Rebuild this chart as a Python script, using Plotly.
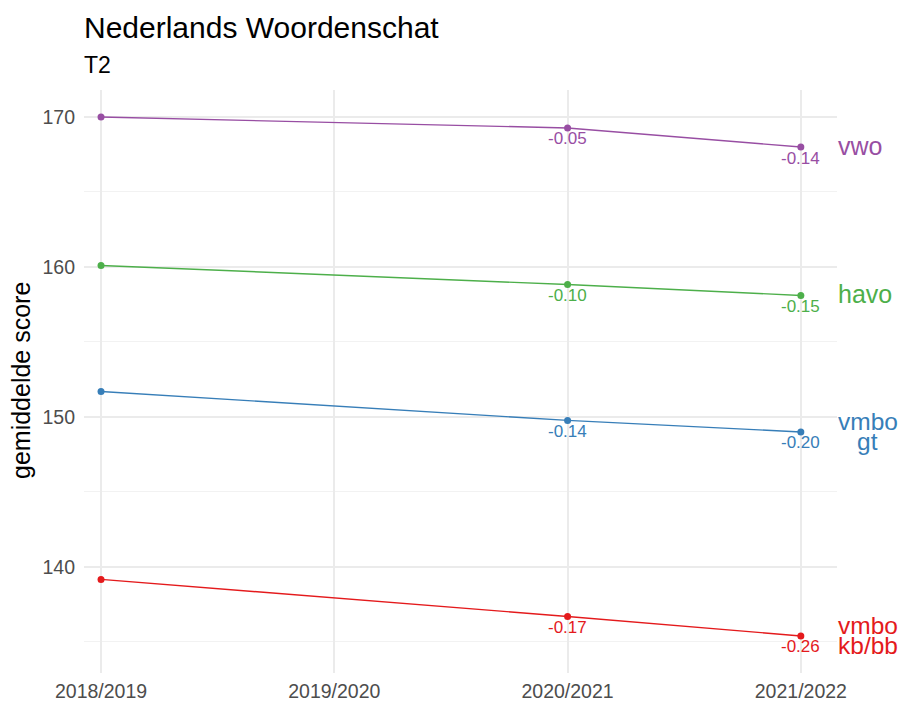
import plotly.graph_objects as go

years = ["2018/2019", "2019/2020", "2020/2021", "2021/2022"]
groups = ["vwo", "havo", "vmbo gt", "vmbo kb/bb"]
group_labels = [["vwo"], ["havo"], ["vmbo", "gt"], ["vmbo", "kb/bb"]]
colors = ["#984EA3", "#4DAF4A", "#377EB8", "#E41A1C"]
vwo = [170.0, 169.27, 168.0]
havo = [160.1, 158.83, 158.1]
vmbo_gt = [151.7, 149.77, 149.0]
vmbo_kbbb = [139.17, 136.7, 135.4]
data_years = ["2018/2019", "2020/2021", "2021/2022"]
eff_vwo = ["-0.05", "-0.14"]
eff_havo = ["-0.10", "-0.15"]
eff_gt = ["-0.14", "-0.20"]
eff_kbbb = ["-0.17", "-0.26"]

series = [vwo, havo, vmbo_gt, vmbo_kbbb]
effects = [eff_vwo, eff_havo, eff_gt, eff_kbbb]

FONT = "Liberation Sans, Arial, sans-serif"
fig = go.Figure()
annotations = []
for name, vals, col, eff, lab in zip(groups, series, colors, effects, group_labels):
    fig.add_trace(go.Scatter(
        x=data_years, y=vals, mode="lines+markers", name=name,
        line=dict(color=col, width=1.4), marker=dict(color=col, size=7),
        showlegend=False, cliponaxis=False))
    for xv, yv, t in zip(data_years[1:], vals[1:], eff):
        annotations.append(dict(x=xv, y=yv, xref="x", yref="y", text=t, showarrow=False,
                                xanchor="center", yanchor="middle", yshift=-11,
                                font=dict(family=FONT, size=17, color=col)))
    if len(lab) == 1:
        annotations.append(dict(x=data_years[-1], y=vals[-1], xref="x", yref="y", text=lab[0],
                                showarrow=False, xanchor="left", yanchor="middle", xshift=35, yshift=1,
                                font=dict(family=FONT, size=25, color=col)))
    else:
        for i, line in enumerate(lab):
            annotations.append(dict(x=data_years[-1], y=vals[-1], xref="x", yref="y", text=line,
                                    showarrow=False, xanchor="center", yanchor="middle",
                                    xshift=67, yshift=10 - 20 * i,
                                    font=dict(family=FONT, size=24.5, color=col)))

W, H = 903, 704
ml, mr, mt, mb = 84, 66, 90, 31
pw, ph = W - ml - mr, H - mt - mb

annotations.append(dict(xref="paper", yref="paper", x=0, y=1 + (90 - 27) / ph,
                        text="Nederlands Woordenschat", showarrow=False, xanchor="left",
                        yanchor="middle", xshift=-2, font=dict(family=FONT, size=30, color="black")))
annotations.append(dict(xref="paper", yref="paper", x=0, y=1 + (90 - 65) / ph,
                        text="T2", showarrow=False, xanchor="left",
                        yanchor="middle", xshift=-2, font=dict(family=FONT, size=23, color="black")))
annotations.append(dict(xref="paper", yref="paper", x=-(84 - 21) / pw, y=0.5 + (673 - 381 - ph / 2) / ph,
                        text="gemiddelde score", showarrow=False, textangle=-90,
                        xanchor="center", yanchor="middle",
                        font=dict(family=FONT, size=25, color="black")))

fig.update_layout(
    width=W, height=H, margin=dict(l=ml, r=mr, t=mt, b=mb, autoexpand=False),
    plot_bgcolor="white", paper_bgcolor="white",
    font=dict(family=FONT),
    annotations=annotations,
    xaxis=dict(type="category", categoryorder="array", categoryarray=years,
               tickvals=years, ticktext=years, automargin=False,
               range=[-0.073, 3.155], showgrid=True, gridcolor="#EBEBEB", gridwidth=2.2,
               zeroline=False, showline=False, ticks="", ticklabelstandoff=4,
               tickfont=dict(family=FONT, size=19.5, color="#4D4D4D")),
    yaxis=dict(range=[132.93, 171.8], tickvals=[140, 150, 160, 170], automargin=False,
               showgrid=True, gridcolor="#EBEBEB", gridwidth=2.2,
               minor=dict(tickvals=[135, 145, 155, 165], showgrid=True, gridcolor="#F2F2F2", gridwidth=1.2),
               zeroline=False, showline=False, ticks="",
               ticklabelstandoff=8,
               tickfont=dict(family=FONT, size=19.5, color="#4D4D4D")),
)
fig.add_trace(go.Scatter(x=years, y=[None] * 4, showlegend=False, hoverinfo="skip"))
fig.write_html("out.html", config={"displayModeBar": False},
               post_script="document.body.style.margin='0';document.body.style.overflow='hidden';")
